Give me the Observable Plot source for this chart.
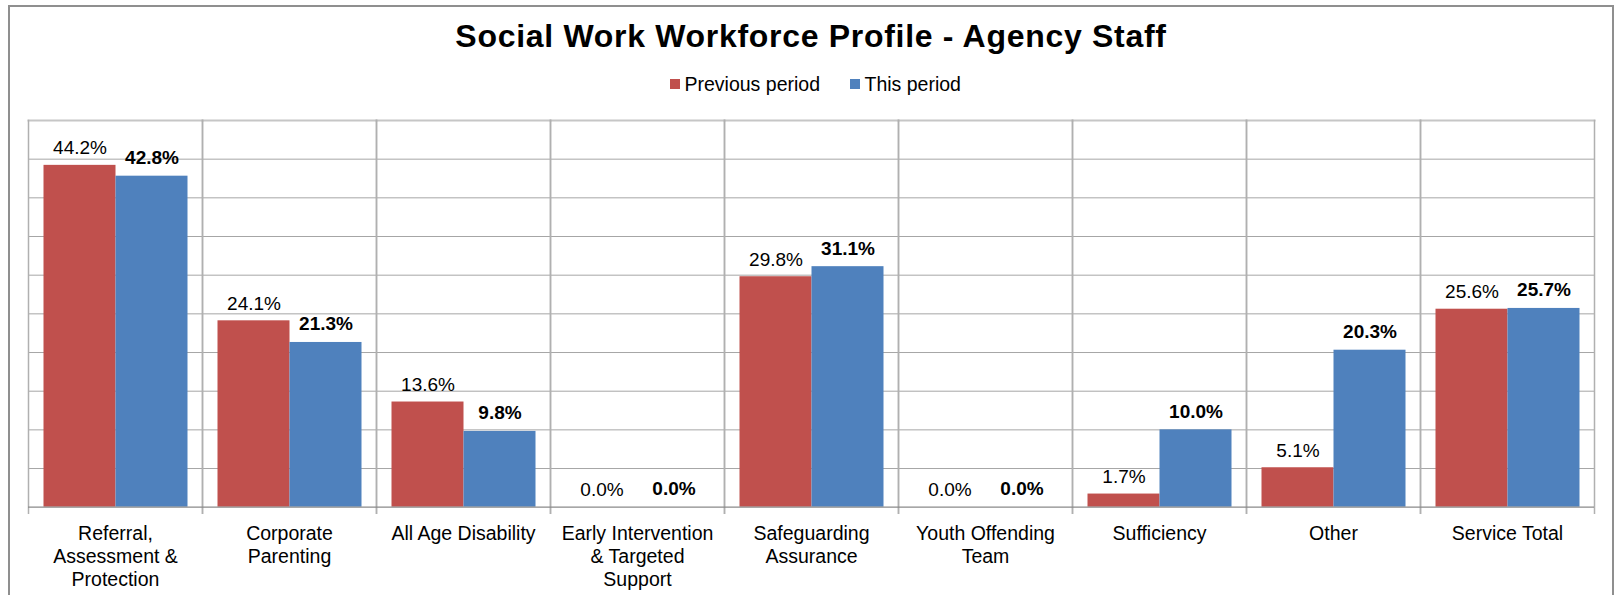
<!DOCTYPE html>
<html><head><meta charset="utf-8">
<script src="https://cdn.jsdelivr.net/npm/d3@7"></script>
<script src="https://cdn.jsdelivr.net/npm/@observablehq/plot@0.6"></script>
<style>
html,body{margin:0;padding:0;background:#fff;width:1615px;height:595px;overflow:hidden;font-family:"Liberation Sans",Arial,sans-serif;color:#000}
#border{position:absolute;left:8px;top:5px;width:1606px;height:700px;box-sizing:border-box;border:2px solid #8f8f8f}
#title{position:absolute;left:8px;width:1606px;top:20px;text-align:center;font-size:32px;line-height:32px;font-weight:bold;letter-spacing:0.7px;white-space:nowrap}
#legend{position:absolute;left:670px;top:75px;font-size:19.5px;line-height:19.5px;white-space:nowrap}
.sw{display:inline-block;width:10px;height:10px;margin-right:4.5px;vertical-align:1.7px}
.gap{display:inline-block;width:30px}
#chart{position:absolute;left:0;top:100px}
</style></head><body>
<div id="border"></div>
<div id="title"></div>
<div id="legend"></div>
<div id="chart"></div>
<script>
const chartTitle = "Social Work Workforce Profile - Agency Staff";
const seriesNames = ["Previous period", "This period"];
const seriesColors = ["#C0504D", "#4F81BD"];
const categories = [
  "Referral, Assessment & Protection",
  "Corporate Parenting",
  "All Age Disability",
  "Early Intervention & Targeted Support",
  "Safeguarding Assurance",
  "Youth Offending Team",
  "Sufficiency",
  "Other",
  "Service Total"
];
const tickLabels = [
  "Referral,\nAssessment &\nProtection",
  "Corporate\nParenting",
  "All Age Disability",
  "Early Intervention\n& Targeted\nSupport",
  "Safeguarding\nAssurance",
  "Youth Offending\nTeam",
  "Sufficiency",
  "Other",
  "Service Total"
];
const previousPeriod = [44.2, 24.1, 13.6, 0.0, 29.8, 0.0, 1.7, 5.1, 25.6];
const thisPeriod = [42.8, 21.3, 9.8, 0.0, 31.1, 0.0, 10.0, 20.3, 25.7];
const yDomain = [0, 50];
const yGrid = [5, 10, 15, 20, 25, 30, 35, 40, 45];

document.getElementById("title").textContent = chartTitle;
const legend = document.getElementById("legend");
seriesNames.forEach((s, i) => {
  if (i > 0) { const g = document.createElement("span"); g.className = "gap"; legend.appendChild(g); }
  const sw = document.createElement("span"); sw.className = "sw"; sw.style.background = seriesColors[i];
  legend.appendChild(sw);
  legend.appendChild(document.createTextNode(s));
});

const rows = categories.flatMap((c, i) => [
  {category: c, series: seriesNames[0], value: previousPeriod[i]},
  {category: c, series: seriesNames[1], value: thisPeriod[i]}
]);
const labelOf = new Map(categories.map((c, i) => [c, tickLabels[i]]));
const fmt = v => d3.format(".1f")(v) + "%";

const chart = Plot.plot({
  width: 1615, height: 495,
  marginLeft: 26.5, marginRight: 20, marginTop: 20, marginBottom: 88.3,
  style: {fontFamily: '"Liberation Sans", Arial, sans-serif', fontSize: "19.5px", color: "#000", background: "transparent", overflow: "visible"},
  fx: {domain: categories, padding: 0, label: null},
  x: {domain: seriesNames, paddingInner: 0, paddingOuter: 0.2055, axis: null},
  y: {domain: yDomain, axis: null},
  color: {domain: seriesNames, range: seriesColors},
  marks: [
    Plot.gridY(yGrid, {stroke: "#a6a6a6", strokeOpacity: 1, strokeWidth: 1}),
    Plot.frame({anchor: "top", stroke: "#c6c6c6", strokeWidth: 2}),
    Plot.frame({anchor: "left", stroke: "#b0b0b0", strokeWidth: 1.5, insetBottom: -6}),
    Plot.frame({anchor: "right", stroke: "#b0b0b0", strokeWidth: 1.5, insetBottom: -6}),
    Plot.barY(rows, {fx: "category", x: "series", y: "value", fill: "series"}),
    Plot.ruleY([0], {stroke: "#8a8a8a", strokeWidth: 1.2}),
    Plot.text(rows.filter(d => d.series === seriesNames[0]), {fx: "category", x: "series", y: "value", text: d => fmt(d.value), lineAnchor: "bottom", dy: -11, fontSize: 19, fill: "#000"}),
    Plot.text(rows.filter(d => d.series === seriesNames[1]), {fx: "category", x: "series", y: "value", text: d => fmt(d.value), lineAnchor: "bottom", dy: -12, fontSize: 19, fontWeight: "bold", fill: "#000"}),
    Plot.axisFx({anchor: "bottom", tickSize: 0, tickPadding: 17, fontSize: 19.5, lineHeight: 1.164, tickFormat: d => labelOf.get(d), label: null, fill: "#000"})
  ]
});
document.getElementById("chart").appendChild(chart);
</script>
</body></html>
